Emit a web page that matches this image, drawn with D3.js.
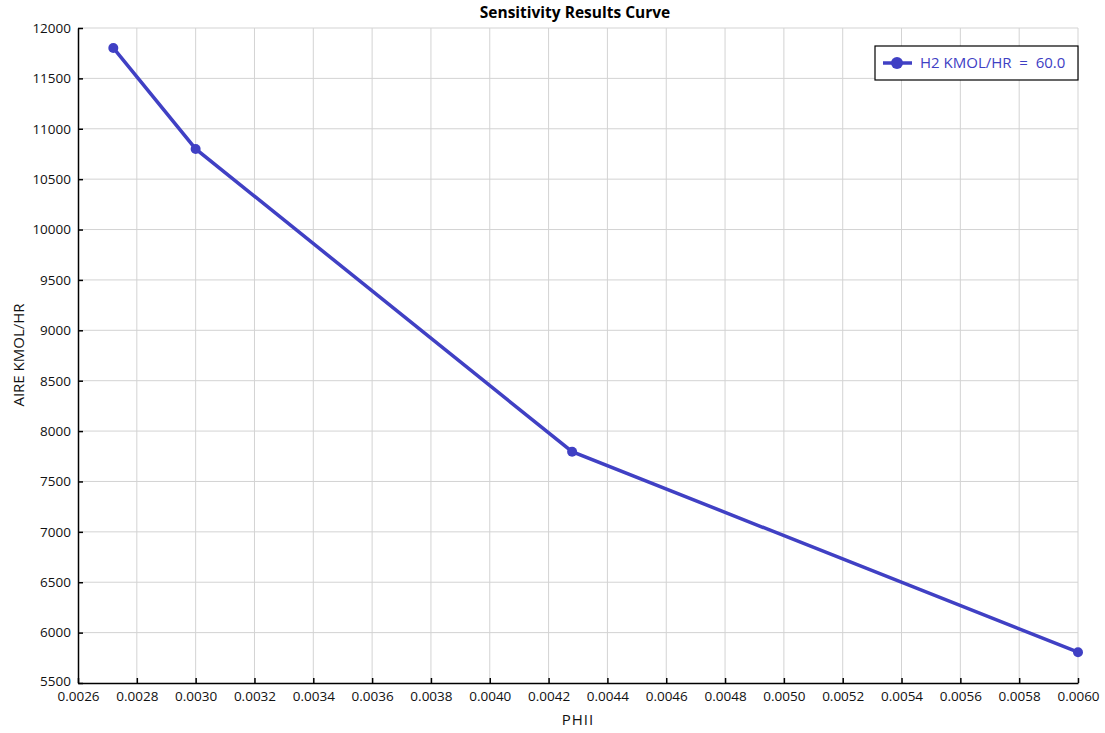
<!DOCTYPE html>
<html>
<head>
    <meta charset="utf-8">
    <title>Sensitivity Results Curve</title>
    <script type="text/javascript" src="https://d3js.org/d3.v7.min.js"></script>
    <style>
        body { margin: 0; background: #fff; }
        svg { display: block; font-family: "Open Sans", "Noto Sans", sans-serif; }
    </style>
</head>
<body>
<script type="text/javascript">
    var w = 1105;
    var h = 733;
    var margin = { top: 28, right: 27, bottom: 50, left: 78 };

    // data
    var phii = [0.00272, 0.0030, 0.00428, 0.0060];
    var aire = [11802, 10800, 7795, 5806];
    var seriesName = "H2 KMOL/HR  =  60.0";
    var xTicks = d3.range(0, 18).map(function(i) { return 0.0026 + i * 0.0002; });
    var yTicks = d3.range(5500, 12001, 500);

    var lineColor = "#4040c4";

    var svg = d3.select("body").append("svg").attr("width", w).attr("height", h);

    var xScale = d3.scaleLinear()
        .domain([0.0026, 0.0060])
        .range([margin.left, w - margin.right]);

    var yScale = d3.scaleLinear()
        .domain([5500, 12000])
        .range([h - margin.bottom, margin.top]);

    // grid
    svg.append("g").selectAll("line.vx")
        .data(xTicks.slice(1))
        .enter().append("line")
        .attr("x1", function(d) { return xScale(d); })
        .attr("x2", function(d) { return xScale(d); })
        .attr("y1", yScale(12000))
        .attr("y2", yScale(5500))
        .attr("stroke", "#d3d3d3")
        .attr("stroke-width", 1);

    svg.append("g").selectAll("line.hy")
        .data(yTicks.slice(1))
        .enter().append("line")
        .attr("x1", xScale(0.0026))
        .attr("x2", xScale(0.0060))
        .attr("y1", function(d) { return yScale(d); })
        .attr("y2", function(d) { return yScale(d); })
        .attr("stroke", "#d3d3d3")
        .attr("stroke-width", 1);

    // axes
    var xAxis = d3.axisBottom(xScale)
        .tickValues(xTicks)
        .tickFormat(d3.format(".4f"))
        .tickSizeInner(-5)
        .tickSizeOuter(0)
        .tickPadding(10);

    var yAxis = d3.axisLeft(yScale)
        .tickValues(yTicks)
        .tickFormat(d3.format("d"))
        .tickSizeInner(-5)
        .tickSizeOuter(0)
        .tickPadding(7);

    var gx = svg.append("g")
        .attr("transform", "translate(0," + yScale(5500) + ")")
        .call(xAxis);
    var gy = svg.append("g")
        .attr("transform", "translate(" + xScale(0.0026) + ",0)")
        .call(yAxis);

    [gx, gy].forEach(function(g) {
        g.selectAll("path").attr("stroke", "#000").attr("stroke-width", 1.5);
        g.selectAll("line").attr("stroke", "#000").attr("stroke-width", 1.5);
        g.selectAll("text")
            .attr("fill", "#111")
            .style("font-size", "13.5px")
            .style("font-family", "'Open Sans', 'Noto Sans', sans-serif");
    });
    gx.selectAll("text").attr("dy", "0.6em");
    gy.select(".tick text").attr("dy", "0.2em");

    // line
    var points = phii.map(function(d, i) { return [d, aire[i]]; });

    var line = d3.line()
        .x(function(d) { return xScale(d[0]); })
        .y(function(d) { return yScale(d[1]); });

    svg.append("path")
        .datum(points)
        .attr("d", line)
        .attr("fill", "none")
        .attr("stroke", lineColor)
        .attr("stroke-width", 3.5);

    svg.selectAll("circle.pt")
        .data(points)
        .enter().append("circle")
        .attr("cx", function(d) { return xScale(d[0]); })
        .attr("cy", function(d) { return yScale(d[1]); })
        .attr("r", 5)
        .attr("fill", lineColor);

    // title and labels
    svg.append("text")
        .attr("x", 575)
        .attr("y", 18)
        .attr("text-anchor", "middle")
        .style("font-size", "15.5px")
        .style("font-weight", "bold")
        .text("Sensitivity Results Curve");

    svg.append("text")
        .attr("x", 578)
        .attr("y", 725)
        .attr("text-anchor", "middle")
        .style("font-size", "15px")
        .style("letter-spacing", "1px")
        .attr("fill", "#111")
        .text("PHII");

    svg.append("text")
        .attr("transform", "translate(24,355) rotate(-90)")
        .attr("text-anchor", "middle")
        .style("font-size", "15px")
        .attr("fill", "#111")
        .text("AIRE KMOL/HR");

    // legend
    var legend = svg.append("g").attr("transform", "translate(875,46)");
    legend.append("rect")
        .attr("width", 203)
        .attr("height", 34)
        .attr("fill", "#fff")
        .attr("stroke", "#000")
        .attr("stroke-width", 1.2);
    legend.append("line")
        .attr("x1", 8).attr("x2", 37)
        .attr("y1", 17).attr("y2", 17)
        .attr("stroke", lineColor)
        .attr("stroke-width", 3.5);
    legend.append("circle")
        .attr("cx", 22).attr("cy", 17).attr("r", 6)
        .attr("fill", lineColor);
    legend.append("text")
        .attr("x", 45)
        .attr("y", 22)
        .attr("fill", lineColor)
        .style("font-size", "15px")
        .style("white-space", "pre")
        .attr("xml:space", "preserve")
        .text(seriesName);
</script>
</body>
</html>
